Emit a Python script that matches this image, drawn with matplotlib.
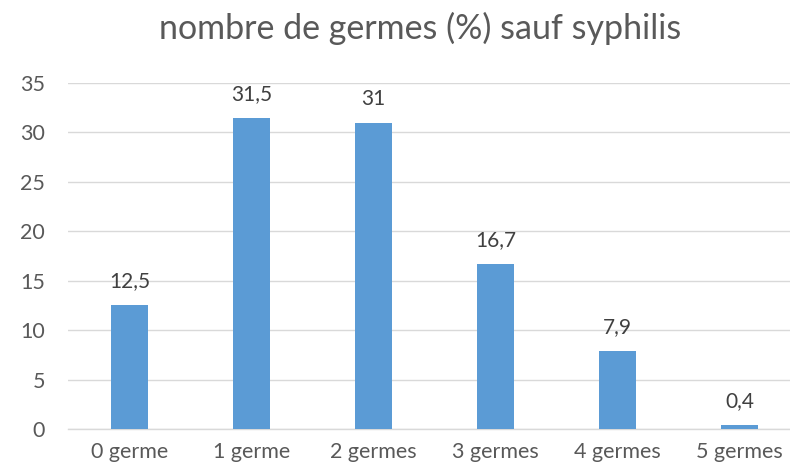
import matplotlib
matplotlib.use("Agg")
import matplotlib.pyplot as plt

categories = ["0 germe", "1 germe", "2 germes", "3 germes", "4 germes", "5 germes"]
values = [12.5, 31.5, 31, 16.7, 7.9, 0.4]
value_labels = ["12,5", "31,5", "31", "16,7", "7,9", "0,4"]
yticks = [0, 5, 10, 15, 20, 25, 30, 35]

C_BAR = "#5B9BD5"
C_GRID = "#D9D9D9"
C_TEXT = "#595959"
C_LABEL = "#404040"

plt.rcParams["font.family"] = ["Lato", "DejaVu Sans"]

fig = plt.figure(figsize=(7.9, 4.73), dpi=100)
ax = fig.add_axes([0.0867, 0.093, 0.927, 0.7315])

x = list(range(len(categories)))
ax.bar(x, values, width=0.3, color=C_BAR, zorder=3)
for xi, v, lab in zip(x, values, value_labels):
    ax.annotate(lab, (xi, v), xytext=(0, 10), textcoords="offset points",
                ha="center", va="bottom", fontsize=15, color=C_LABEL)

ax.set_xlim(-0.5, len(categories) - 0.5)
ax.set_ylim(0, 35)
ax.set_yticks(yticks)
ax.set_yticklabels([str(t) for t in yticks])
ax.set_xticks(x)
ax.set_xticklabels(categories)
ax.yaxis.grid(True, color=C_GRID, lw=1.0, zorder=0)
ax.tick_params(axis="both", length=0, labelsize=15.5, colors=C_TEXT)
ax.tick_params(axis="y", pad=17)
ax.tick_params(axis="x", pad=9)
for s in ("top", "right", "left"):
    ax.spines[s].set_visible(False)
ax.spines["bottom"].set_color(C_GRID)
ax.spines["bottom"].set_linewidth(1.0)

fig.text(0.532, 0.94, "nombre de germes (%) sauf syphilis", ha="center", va="center",
         fontsize=24.5, color=C_TEXT)

fig.savefig("out.png", dpi=100)
